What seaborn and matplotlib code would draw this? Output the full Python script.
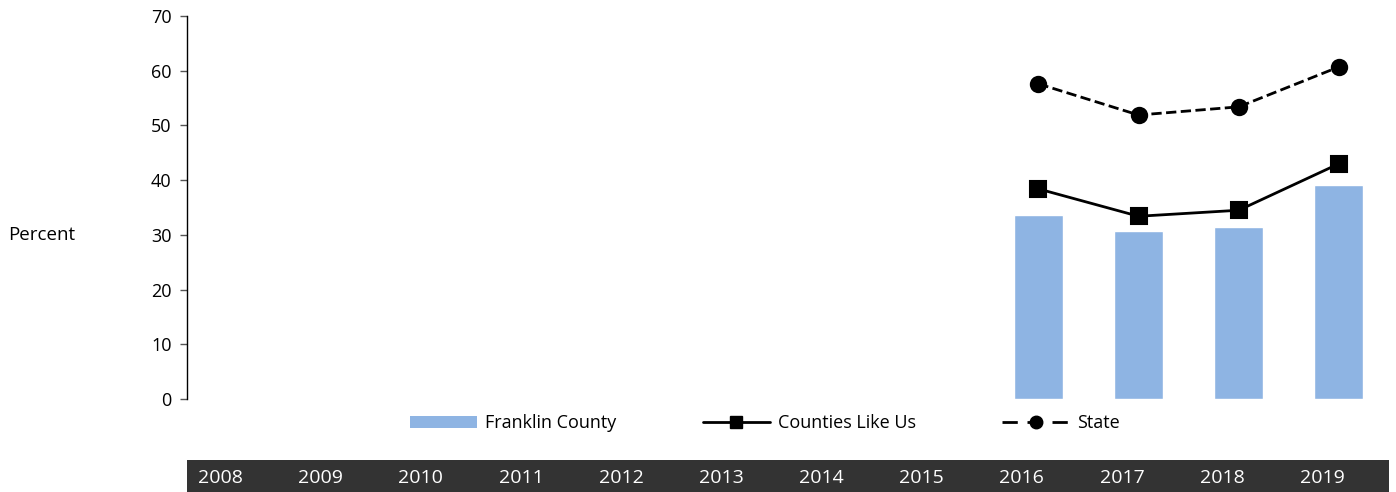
import matplotlib
matplotlib.use("Agg")
import matplotlib.pyplot as plt
from matplotlib.patches import Patch
from matplotlib.lines import Line2D
import seaborn as sns
import pandas as pd
import numpy as np

years = ["2008", "2009", "2010", "2011", "2012", "2013", "2014", "2015", "2016", "2017", "2018", "2019"]
franklin = [np.nan] * 8 + [33.6, 30.7, 31.4, 39.1]
counties_like_us = [np.nan] * 8 + [38.4, 33.4, 34.5, 43.0]
state = [np.nan] * 8 + [57.6, 51.9, 53.4, 60.7]

df = pd.DataFrame({"Year": years, "Franklin County": franklin,
                   "Counties Like Us": counties_like_us, "State": state})

sns.set_style("white")
plt.rcParams['font.family'] = ['Open Sans', 'DejaVu Sans']
plt.rcParams['text.color'] = 'black'
plt.rcParams['ytick.labelcolor'] = 'black'

bar_color = "#8EB4E3"
dash = (0, (5.5, 3.5))
W, H = 1396, 492
fig = plt.figure(figsize=(W / 100, H / 100), dpi=100)
ax = fig.add_axes([187 / W, 93 / H, 1202 / W, 383 / H])

sns.barplot(data=df, x="Year", y="Franklin County", order=years, color=bar_color,
            width=0.49, saturation=1, ax=ax)
pts = df.dropna()
sns.pointplot(data=pts, x="Year", y="Counties Like Us", order=years, color="black",
              markers="s", linestyles="-", markersize=11, linewidth=2, ax=ax)
sns.pointplot(data=pts, x="Year", y="State", order=years, color="black",
              markers="o", linestyles="--", markersize=11, linewidth=2, ax=ax)
ax.lines[-1].set_linestyle(dash)

ax.set_xlim(-0.5, 11.5)
ax.set_ylim(0, 70)
ax.set_yticks(range(0, 71, 10))
ax.set_xticks([])
ax.set_xlabel("")
ax.set_ylabel("")
for s in ["top", "right", "bottom"]:
    ax.spines[s].set_visible(False)
ax.spines["left"].set_color("black")
ax.spines["left"].set_linewidth(1)
ax.tick_params(axis="y", left=True, length=5, width=1, color="#555555",
               labelcolor="black", labelsize=13, pad=6)
fig.text(8 / W, 1 - 235 / H, "Percent", fontsize=13.5, va="center", ha="left")

handles = [
    Patch(facecolor=bar_color, edgecolor="none"),
    Line2D([], [], color="black", lw=2, marker="s", markersize=9),
    Line2D([], [], color="black", lw=2, ls=dash, marker="o", markersize=9),
]
fig.legend(handles, ["Franklin County", "Counties Like Us", "State"], ncol=3,
           loc="center", bbox_to_anchor=(765 / W, 1 - 423 / H), frameon=False,
           fontsize=13, handlelength=3.7, handleheight=0.65, columnspacing=4.8, handletextpad=0.45)

band = fig.add_axes([187 / W, 0, 1202 / W, 32 / H])
band.set_facecolor("#333333")
band.set_xlim(-0.5, 11.5)
band.set_ylim(0, 1)
band.set_xticks([])
band.set_yticks([])
for s in band.spines.values():
    s.set_visible(False)
for i, y in enumerate(years):
    band.text(i - 0.39, 0.45, y, color="white", fontsize=14, va="center", ha="left")

fig.savefig("out.png", dpi=100, facecolor="white")
